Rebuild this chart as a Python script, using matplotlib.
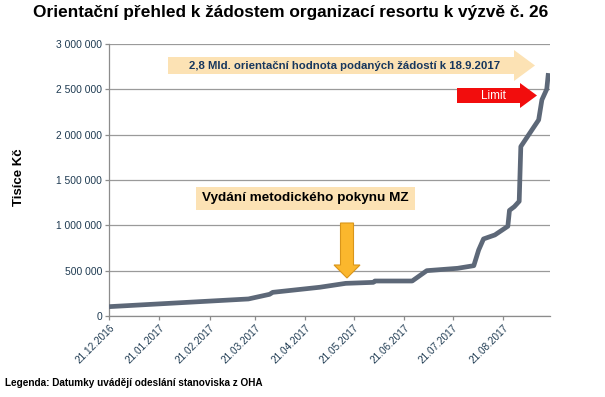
import matplotlib
matplotlib.use("Agg")
import matplotlib.pyplot as plt
import matplotlib.dates as mdates
from matplotlib.patches import Polygon, Rectangle
from matplotlib.ticker import FuncFormatter, MultipleLocator
import pandas as pd

plt.rcParams['font.family'] = ['Liberation Sans', 'DejaVu Sans']

# ---- data ----
dates = ["2016-12-21", "2017-03-17", "2017-03-30", "2017-04-01", "2017-04-30",
         "2017-05-16", "2017-06-02", "2017-06-03", "2017-06-26", "2017-07-05",
         "2017-07-24", "2017-08-03", "2017-08-06", "2017-08-09", "2017-08-16",
         "2017-08-24", "2017-08-25", "2017-08-28", "2017-08-31", "2017-09-01",
         "2017-09-12", "2017-09-14", "2017-09-17", "2017-09-18"]
values = [103000, 188000, 239000, 261000, 317000,
          360000, 371000, 386000, 386000, 500000,
          526000, 555000, 728000, 850000, 894000,
          990000, 1165000, 1206000, 1265000, 1869000,
          2163000, 2384000, 2502000, 2679000]
tick_dates = ["2016-12-21", "2017-01-21", "2017-02-21", "2017-03-21", "2017-04-21",
              "2017-05-21", "2017-06-21", "2017-07-21", "2017-08-21"]
x_range = ["2016-12-21", "2017-09-19"]
y_max = 3000000
y_step = 500000

title = "Orientační přehled k žádostem organizací resortu k výzvě č. 26"
ylabel = "Tisíce Kč"
note_top = "2,8 Mld. orientační hodnota podaných žádostí k 18.9.2017"
note_limit = "Limit"
note_pokyn = "Vydání metodického pokynu MZ"
legend_text = "Legenda: Datumky uvádějí odeslání stanoviska z OHA"

W, H = 605, 397
fig = plt.figure(figsize=(W / 100, H / 100), dpi=100)
fig.patch.set_facecolor("white")


def fx(x):
    return x / W


def fy(y):
    return 1 - y / H


ax = fig.add_axes([fx(109), fy(316), fx(550) - fx(109), fy(44) - fy(316)])

d = pd.to_datetime(dates)
ax.plot(d, values, color="#5D6878", lw=3.4, solid_joinstyle="round",
        solid_capstyle="butt", zorder=3)

ax.set_xlim(pd.to_datetime(x_range[0]), pd.to_datetime(x_range[1]))
ax.set_ylim(0, y_max)
ax.yaxis.set_major_locator(MultipleLocator(y_step))
ax.yaxis.set_major_formatter(FuncFormatter(lambda v, p: f"{int(v):,}".replace(",", " ")))
ax.grid(axis="y", color="#9A9A9A", lw=0.9)
ax.set_axisbelow(True)

td = pd.to_datetime(tick_dates)
ax.set_xticks(td)
ax.set_xticklabels([t.strftime("%d.%m.%Y") for t in td], rotation=45,
                   ha="right", va="top", rotation_mode="anchor")

for s in ["top", "right"]:
    ax.spines[s].set_visible(False)
for s in ["left", "bottom"]:
    ax.spines[s].set_color("#8C8C8C")
    ax.spines[s].set_linewidth(0.9)

ax.tick_params(axis="both", colors="#8C8C8C", length=3, width=0.9)
ax.tick_params(axis="y", labelsize=7.4, labelcolor="#1F3B52", pad=2)
ax.tick_params(axis="x", labelsize=7.2, labelcolor="#1F3B52", pad=2)

# title and labels
fig.text(fx(291), fy(13), title, ha="center", va="center", fontsize=12.4,
         fontweight="bold", color="black")
fig.text(fx(19), fy(177), ylabel, ha="center", va="center", rotation=90,
         fontsize=9.5, fontweight="bold", color="black")
fig.text(fx(5), fy(383), legend_text, ha="left", va="center", fontsize=7.2,
         fontweight="bold", color="black")


def poly(pts, color, ec=None, z=5):
    p = Polygon([(fx(x), fy(y)) for x, y in pts], closed=True,
                transform=fig.transFigure, facecolor=color,
                edgecolor=ec if ec else "none", lw=0.8, zorder=z)
    fig.add_artist(p)


# peach arrow
poly([(168, 57), (514, 57), (514, 50), (535, 65.5), (514, 81), (514, 74), (168, 74)],
     "#FCE2B4")
fig.text(fx(345), fy(66), note_top, ha="center", va="center", fontsize=8.2,
         fontweight="bold", color="#17375E", zorder=6)

# red arrow
poly([(457, 88), (520, 88), (520, 83), (537, 95.5), (520, 108), (520, 103), (457, 103)],
     "#F20D0D")
fig.text(fx(493), fy(96), note_limit, ha="center", va="center", fontsize=8.5,
         color="white", zorder=6)

# callout box
fig.add_artist(Rectangle((fx(196), fy(210)), fx(415) - fx(196), fy(187) - fy(210),
                         transform=fig.transFigure, facecolor="#FCE2B4",
                         edgecolor="none", zorder=5))
fig.text(fx(305.5), fy(198.5), note_pokyn, ha="center", va="center", fontsize=9.7,
         fontweight="bold", color="black", zorder=6)

# orange down arrow
poly([(340.5, 223), (353.5, 223), (353.5, 265), (360, 265), (347, 278), (334, 265), (340.5, 265)],
     "#FBB72D", ec="#D9951A")

fig.savefig("out.png", dpi=100)
